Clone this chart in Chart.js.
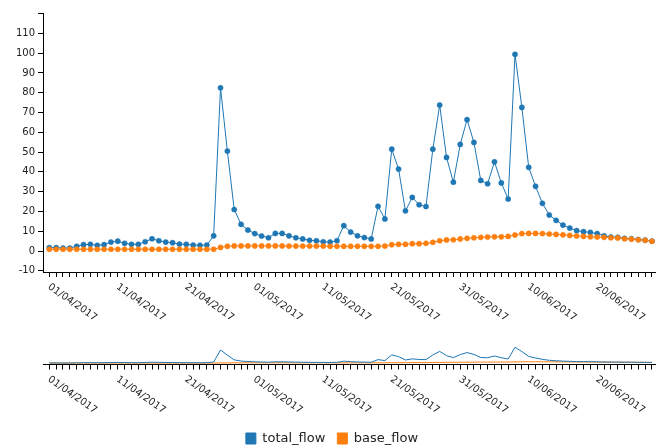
<!DOCTYPE html>
<html>
<head>
<meta charset="utf-8">
<script src="https://cdn.jsdelivr.net/npm/chart.js@4/dist/chart.umd.min.js"></script>
<style>
    html, body { margin: 0; padding: 0; background: #fff; overflow: hidden; }
    #wrap { position: relative; width: 660px; height: 448px; }
    #mainChart { position: absolute; left: 0; top: 0; }
    #subChart { position: absolute; left: 0; top: 330px; }
</style>
</head>
<body>
<div id="wrap">
    <canvas id="mainChart" width="660" height="330"></canvas>
    <canvas id="subChart" width="660" height="130"></canvas>
</div>
<script>
// --- 1. DATA ---
// one value per day, 01/04/2017 .. 28/06/2017
const totalFlow = [
    1.7, 1.7, 1.5, 1.5, 2.4, 3.2, 3.4, 2.9, 3.2, 4.5,
    5.0, 3.9, 3.4, 3.4, 4.7, 6.2, 5.2, 4.5, 4.2, 3.5,
    3.4, 3.0, 2.9, 3.0, 7.7, 82.5, 50.5, 21.0, 13.5, 10.6,
    8.8, 7.6, 6.7, 8.9, 8.9, 7.7, 6.7, 6.1, 5.4, 5.2,
    4.7, 4.5, 5.2, 12.8, 9.6, 7.7, 6.8, 6.1, 22.6, 16.2,
    51.5, 41.4, 20.3, 27.1, 23.4, 22.5, 51.5, 73.8, 47.3, 34.8,
    53.9, 66.4, 54.9, 35.7, 34.0, 45.1, 34.4, 26.3, 99.4, 72.6,
    42.3, 32.7, 24.1, 18.2, 15.5, 13.1, 11.6, 10.3, 9.8, 9.4,
    8.8, 7.7, 7.1, 6.9, 6.4, 6.2, 5.8, 5.5, 5.0
];
const baseFlow = [
    0.9, 0.9, 0.9, 0.9, 0.9, 0.9, 0.9, 0.9, 0.9, 0.9,
    0.9, 0.9, 0.9, 0.9, 0.9, 0.9, 0.9, 0.9, 0.9, 0.9,
    0.9, 0.9, 0.9, 0.9, 0.9, 1.8, 2.4, 2.6, 2.6, 2.6,
    2.6, 2.6, 2.6, 2.6, 2.6, 2.5, 2.5, 2.5, 2.5, 2.5,
    2.5, 2.4, 2.4, 2.4, 2.4, 2.4, 2.4, 2.4, 2.4, 2.5,
    3.2, 3.4, 3.4, 3.7, 3.7, 3.9, 4.4, 5.2, 5.6, 5.7,
    6.1, 6.4, 6.7, 6.9, 7.1, 7.2, 7.2, 7.4, 8.1, 8.8,
    8.9, 8.9, 8.8, 8.6, 8.4, 8.2, 7.9, 7.6, 7.4, 7.2,
    7.1, 6.9, 6.7, 6.6, 6.2, 6.0, 5.7, 5.4, 4.9
];
const dateTickDays = [0, 10, 20, 30, 40, 50, 60, 70, 80];
const dateTickLabels = [
    '01/04/2017', '11/04/2017', '21/04/2017', '01/05/2017', '11/05/2017',
    '21/05/2017', '31/05/2017', '10/06/2017', '20/06/2017'
];
const yTicks = [-10, 0, 10, 20, 30, 40, 50, 60, 70, 80, 90, 100, 110];

const COLORS = {
    total: '#1f77b4',
    base: '#ff7f0e',
    axis: '#000',
    text: '#222'
};
const FONT = '"DejaVu Sans", sans-serif';

const days = totalFlow.map((_, i) => i);
const toPoints = arr => arr.map((v, i) => ({ x: days[i], y: v }));

// x range padded so the first/last day sit just inside the axis
const X_MIN = -0.92;
const X_MAX = 88.44;

// --- 2. HELPERS ---

// draws the rotated date labels under an x axis (text runs down-right)
const rotatedDateLabels = {
    id: 'rotatedDateLabels',
    afterDraw(chart) {
        const xs = chart.scales.x;
        const ctx = chart.ctx;
        ctx.save();
        ctx.font = '10px ' + FONT;
        ctx.fillStyle = COLORS.text;
        ctx.textAlign = 'left';
        ctx.textBaseline = 'alphabetic';
        dateTickDays.forEach((d, i) => {
            const px = xs.getPixelForValue(d);
            ctx.save();
            ctx.translate(px - 2, xs.top + 16);
            ctx.rotate(35 * Math.PI / 180);
            ctx.fillText(dateTickLabels[i], 0, 0);
            ctx.restore();
        });
        ctx.restore();
    }
};

function dayTicks(scale) {
    scale.ticks = days.map(v => ({ value: v }));
}

function xAxis(height) {
    return {
        type: 'linear',
        min: X_MIN,
        max: X_MAX,
        afterBuildTicks: dayTicks,
        afterFit: s => { s.height = height; },
        ticks: { display: false },
        grid: {
            display: true,
            drawOnChartArea: false,
            drawTicks: true,
            tickLength: 5,
            color: COLORS.axis
        },
        border: { display: true, color: COLORS.axis, width: 1 }
    };
}

// --- 3. MAIN CHART ---
function initializeMainChart() {
    const ctx = document.getElementById('mainChart').getContext('2d');
    new Chart(ctx, {
        type: 'line',
        data: {
            datasets: [{
                label: 'base_flow',
                data: toPoints(baseFlow),
                borderColor: COLORS.base,
                backgroundColor: COLORS.base,
                borderWidth: 1,
                pointRadius: 2.6,
                pointBorderWidth: 0.5,
                tension: 0
            }, {
                label: 'total_flow',
                data: toPoints(totalFlow),
                borderColor: COLORS.total,
                backgroundColor: COLORS.total,
                borderWidth: 1,
                pointRadius: 2.6,
                pointBorderWidth: 0.5,
                tension: 0
            }]
        },
        options: {
            responsive: false,
            animation: false,
            layout: { padding: { top: 13, right: 5, left: 0, bottom: 0 } },
            scales: {
                x: xAxis(58),
                y: {
                    type: 'linear',
                    min: -10.6,
                    max: 120.3,
                    afterBuildTicks: s => {
                        s.ticks = yTicks.map(v => ({ value: v })).concat({ value: 120.3 });
                    },
                    afterFit: s => { s.width = 43; },
                    ticks: {
                        padding: 3,
                        color: COLORS.text,
                        font: { family: FONT, size: 10 },
                        callback: v => (yTicks.includes(v) ? String(v) : '')
                    },
                    grid: {
                        display: true,
                        drawOnChartArea: false,
                        drawTicks: true,
                        tickLength: 5,
                        color: COLORS.axis
                    },
                    border: { display: true, color: COLORS.axis, width: 1 }
                }
            },
            plugins: {
                legend: { display: false },
                tooltip: { enabled: false }
            }
        },
        plugins: [rotatedDateLabels]
    });
}

// --- 4. SUB CHART (overview) + LEGEND ---
function initializeSubChart() {
    const ctx = document.getElementById('subChart').getContext('2d');
    new Chart(ctx, {
        type: 'line',
        data: {
            datasets: [{
                label: 'total_flow',
                data: toPoints(totalFlow),
                borderColor: COLORS.total,
                backgroundColor: COLORS.total,
                borderWidth: 1,
                pointRadius: 0,
                tension: 0
            }, {
                label: 'base_flow',
                data: toPoints(baseFlow),
                borderColor: COLORS.base,
                backgroundColor: COLORS.base,
                borderWidth: 1,
                pointRadius: 0,
                tension: 0
            }]
        },
        options: {
            responsive: false,
            animation: false,
            layout: { padding: { top: 14, right: 5, left: 9, bottom: 5 } },
            scales: {
                x: xAxis(55.5),
                y: {
                    display: true,
                    min: -8,
                    max: 120,
                    afterFit: s => { s.width = 34; },
                    ticks: { display: false },
                    grid: { display: false },
                    border: { display: false }
                }
            },
            plugins: {
                legend: {
                    display: true,
                    position: 'bottom',
                    labels: {
                        boxWidth: 10,
                        boxHeight: 11,
                        padding: 12,
                        color: COLORS.text,
                        font: { family: FONT, size: 13 }
                    }
                },
                tooltip: { enabled: false }
            }
        },
        plugins: [rotatedDateLabels]
    });
}

initializeMainChart();
initializeSubChart();
</script>
</body>
</html>
